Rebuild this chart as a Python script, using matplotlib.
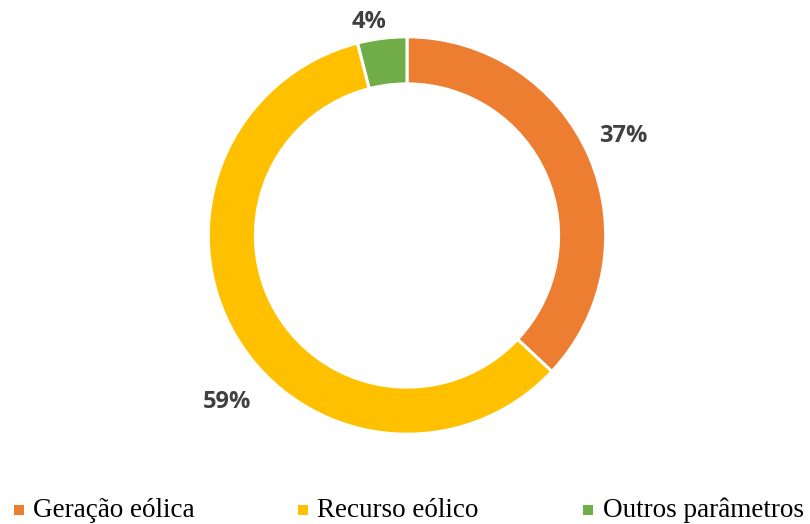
import matplotlib.pyplot as plt
from matplotlib.patches import Rectangle

# share of each factor
categories = ['Geração eólica', 'Recurso eólico', 'Outros parâmetros']
shares = [37, 59, 4]
colors = ['#ED7D31', '#FFC000', '#70AD47']

W, H = 810, 524
fig = plt.figure(figsize=(W / 100, H / 100), dpi=100)

# axes sized so that radius 1 is ~199 px, centred on the ring
cx, cy = 407 / W, 1 - 235.5 / H
r_px = 198.7
lim = 1.25
w = r_px * 2 * lim / W
h = r_px * 2 * lim / H
ax = fig.add_axes([cx - w / 2, cy - h / 2, w, h])

wedges, _ = ax.pie(shares, colors=colors, startangle=90, counterclock=False,
                   radius=1.0,
                   wedgeprops=dict(width=0.237, edgecolor='white', linewidth=2.2))
ax.set_xlim(-lim, lim)
ax.set_ylim(-lim, lim)
ax.set_aspect('equal')
ax.axis('off')

# percentage labels outside the ring
label_pos = [(623, 136), (227, 402), (369, 22)]
for val, (px, py) in zip(shares, label_pos):
    fig.text(px / W, 1 - py / H, f'{val}%', ha='center', va='center',
             fontsize=17, fontweight='bold', color='#404040',
             family='Open Sans')

# legend row along the bottom
marker_x = [14, 298, 583]
text_x = [33, 317, 603]
for name, c, mx, tx in zip(categories, colors, marker_x, text_x):
    fig.patches.append(Rectangle((mx / W, 1 - 515 / H), 10 / W, 10 / H,
                                 facecolor=c, edgecolor='none',
                                 transform=fig.transFigure, figure=fig))
    fig.text(tx / W, 1 - 517 / H, name, ha='left', va='baseline',
             fontsize=19.5, color='black', family='Liberation Serif')

fig.savefig('out.png', dpi=100)
